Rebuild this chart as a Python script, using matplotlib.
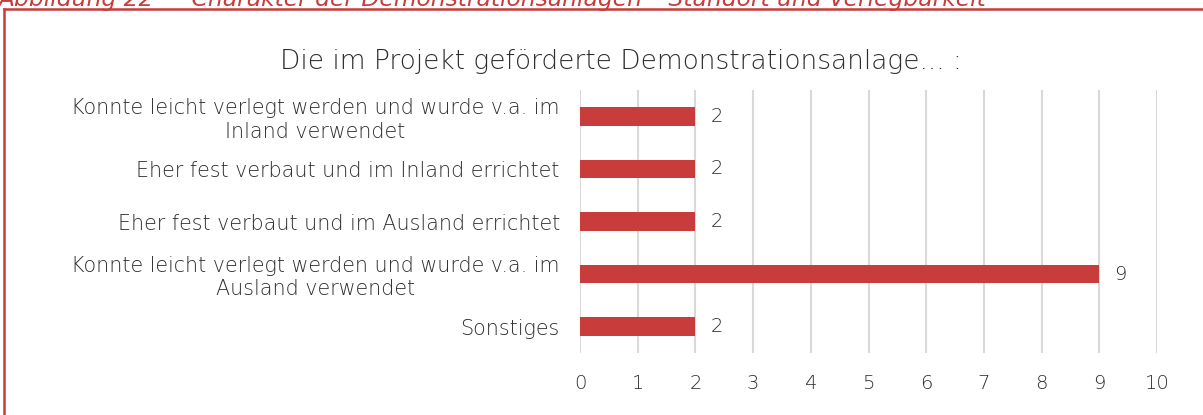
import matplotlib
matplotlib.use("Agg")
import matplotlib.pyplot as plt
from matplotlib.lines import Line2D

categories = [
    "Konnte leicht verlegt werden und wurde v.a. im\nInland verwendet",
    "Eher fest verbaut und im Inland errichtet",
    "Eher fest verbaut und im Ausland errichtet",
    "Konnte leicht verlegt werden und wurde v.a. im\nAusland verwendet",
    "Sonstiges",
]
values = [2, 2, 2, 9, 2]
xticks = list(range(0, 11))
title = "Die im Projekt geförderte Demonstrationsanlage... :"
caption = "Abbildung 22 \u2014 Charakter der Demonstrationsanlagen \u2013 Standort und Verlegbarkeit"

RED = "#C83C3C"
TXT = "#2E2E2E"
GRID = "#D9D9D9"

plt.rcParams['font.family'] = ['DejaVu Sans']
plt.rcParams['font.weight'] = 'light'

W, H = 1203, 415
fig = plt.figure(figsize=(W / 100, H / 100), dpi=100)
ax = fig.add_axes([580 / W, 1 - 353 / H, (1157 - 580) / W, (353 - 90) / H])

ypos = list(range(len(categories)))
ax.barh(ypos, values, height=0.35, color=RED, zorder=3)
ax.set_ylim(len(categories) - 0.5, -0.5)
ax.set_xlim(0, 10)
ax.set_xticks(xticks)
ax.set_xticklabels([str(t) for t in xticks])
ax.set_yticks(ypos)
ax.set_yticklabels(categories)
for lab in ax.get_yticklabels():
    lab.set_multialignment('center')
    lab.set_fontsize(14.9)
    lab.set_linespacing(1.2)

ax.grid(axis='x', color=GRID, linewidth=1.5, zorder=0)
for s in ax.spines.values():
    s.set_visible(False)
ax.tick_params(axis='both', length=0, colors=TXT)
ax.tick_params(axis='x', pad=15, labelsize=14)
ax.tick_params(axis='y', pad=14.5)

for y, v in zip(ypos, values):
    ax.annotate(str(v), (v, y), xytext=(15, 0), textcoords='offset pixels',
                va='center', ha='left', color=TXT, fontsize=14)

fig.text(621 / W, 1 - 62 / H, title, ha='center', va='center', color=TXT, fontsize=19)

# frame
fig.add_artist(Line2D([4 / W, 4 / W], [0, 1 - 9 / H], color=RED, linewidth=1.8,
                      transform=fig.transFigure))
fig.add_artist(Line2D([4 / W, 1], [1 - 9 / H, 1 - 9 / H], color=RED, linewidth=1.8,
                      transform=fig.transFigure))
fig.text(-2 / W, 1 - 6 / H, caption, ha='left', va='baseline', color=RED, fontsize=16.8,
         style='italic', fontweight='normal')

fig.savefig("out.png", dpi=100)
